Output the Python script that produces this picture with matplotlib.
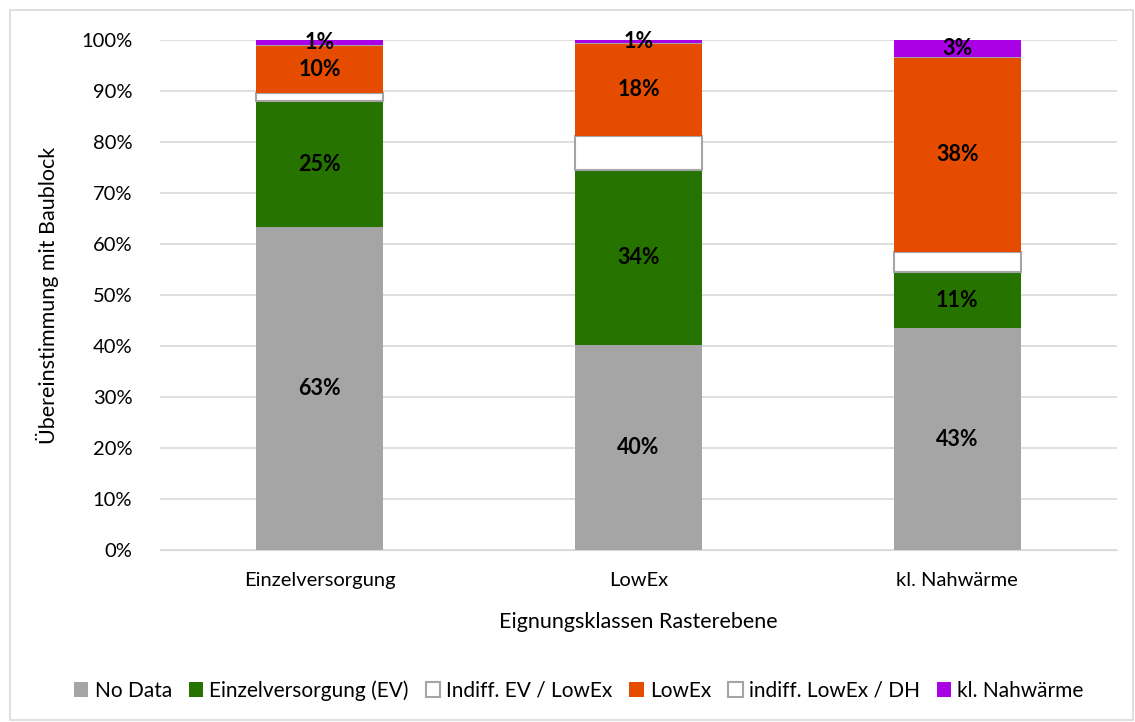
import matplotlib.pyplot as plt
from matplotlib.patches import Rectangle
from matplotlib.ticker import PercentFormatter

plt.rcParams['font.family'] = ['Lato', 'DejaVu Sans']

categories = ['Einzelversorgung', 'LowEx', 'kl. Nahwärme']
series = ['No Data', 'Einzelversorgung (EV)', 'Indiff. EV / LowEx', 'LowEx',
          'indiff. LowEx / DH', 'kl. Nahwärme']
values = [
    [63.3, 40.1, 43.5],   # No Data
    [24.7, 34.4, 10.9],   # Einzelversorgung (EV)
    [1.5, 6.7, 4.0],      # Indiff. EV / LowEx
    [9.5, 18.1, 38.2],    # LowEx
    [0.0, 0.0, 0.0],      # indiff. LowEx / DH
    [1.0, 0.7, 3.4],      # kl. Nahwärme
]
labels = [
    ['63%', '40%', '43%'],
    ['25%', '34%', '11%'],
    None,
    ['10%', '18%', '38%'],
    None,
    ['1%', '1%', '3%'],
]
colors = ['#A5A5A5', '#267300', 'white', '#E64C00', 'white', '#A900E6']
edges = ['none', 'none', '#A5A5A5', 'none', '#A5A5A5', 'none']

fig = plt.figure(figsize=(11.35, 7.22), dpi=100)
ax = fig.add_axes([0.141, 0.238, 0.843, 0.707])

x = range(len(categories))
bottom = [0, 0, 0]
for name, vals, lab, c, e in zip(series, values, labels, colors, edges):
    ax.bar(x, vals, 0.4, bottom=bottom, color=c, edgecolor=e,
           linewidth=1.5 if e != 'none' else 0, label=name, zorder=3)
    if lab:
        for i, v in enumerate(vals):
            ax.text(i, bottom[i] + v / 2, lab[i], ha='center', va='center',
                    fontsize=15.5, fontweight='bold', zorder=4)
    bottom = [b + v for b, v in zip(bottom, vals)]

ax.set_ylim(0, 100)
ax.set_xlim(-0.5, 2.5)
ax.set_yticks(range(0, 101, 10))
ax.yaxis.set_major_formatter(PercentFormatter(decimals=0))
ax.grid(axis='y', color='#D9D9D9', linewidth=1.2, zorder=0)
for s in ax.spines.values():
    s.set_visible(False)
ax.spines['bottom'].set_visible(True)
ax.spines['bottom'].set_color('#D9D9D9')
ax.tick_params(length=0, labelsize=14.5, pad=20)
ax.set_xticks(list(x))
ax.set_xticklabels(categories)
ax.tick_params(axis='x', pad=16)
ax.set_ylabel('Übereinstimmung mit Baublock', fontsize=15.5, labelpad=16)
ax.set_xlabel('Eignungsklassen Rasterebene', fontsize=15.5, labelpad=16)

fig.legend(loc='center', bbox_to_anchor=(0.51, 0.044), ncol=6, frameon=False,
           fontsize=15, handlelength=0.7, handleheight=0.7, handletextpad=0.3,
           columnspacing=0.8)

fig.patches.append(Rectangle((0.009, 0.003), 0.989, 0.983, transform=fig.transFigure,
                             fill=False, edgecolor='#D9D9D9', linewidth=1.2))

fig.savefig('out.png', dpi=100)
